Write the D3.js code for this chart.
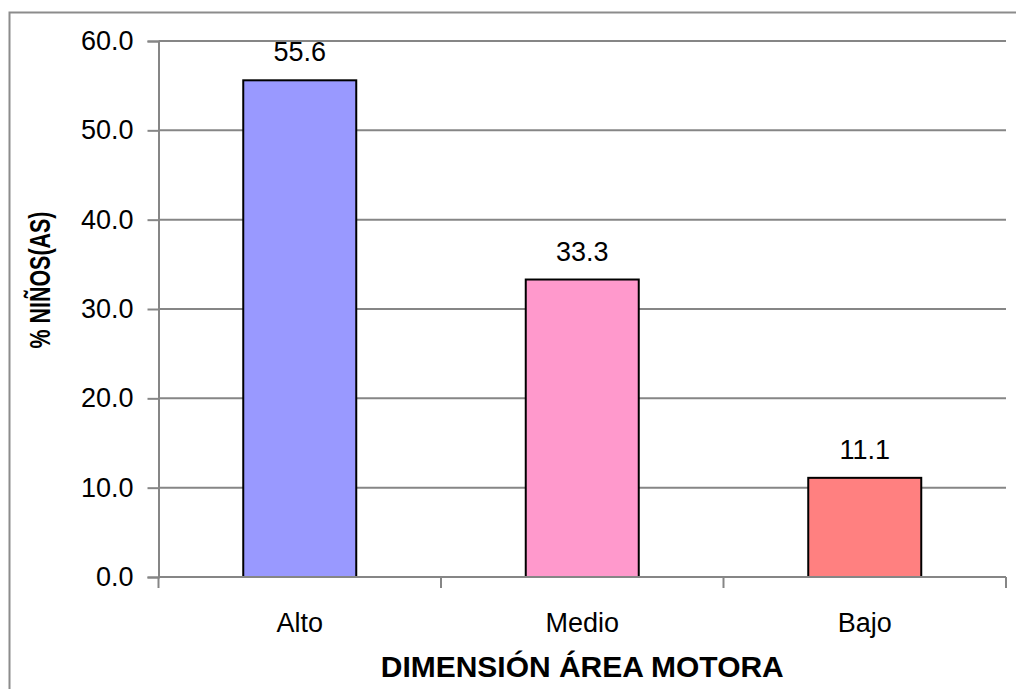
<!DOCTYPE html>
<html>
<head>
<meta charset="utf-8">
<script src="https://cdn.jsdelivr.net/npm/d3@7"></script>
<style>
  body { margin: 0; background: #fff; overflow: hidden; }
  svg { display: block; font-family: "Liberation Sans", Arial, sans-serif; }
</style>
</head>
<body>
<svg id="chart" width="1016" height="689"></svg>
<script>
// data
const categories = ["Alto", "Medio", "Bajo"];
const values = [55.6, 33.3, 11.1];
const barColors = ["#9999FF", "#FF99CC", "#FF8080"];
const yTicks = [0, 10, 20, 30, 40, 50, 60];

const svg = d3.select("#chart");

// outer border: only left and top edges are inside the picture
svg.append("path")
    .attr("d", "M9.5,689 L9.5,12.5 L1016,12.5")
    .attr("fill", "none")
    .attr("stroke", "#8c8c8c")
    .attr("stroke-width", 2);

const plotLeft = 158.5, plotRight = 1006, plotTop = 41, plotBottom = 577;

const y = d3.scaleLinear().domain([0, 60]).range([plotBottom, plotTop]);
const x = d3.scaleBand()
    .domain(categories)
    .range([plotLeft, plotRight])
    .paddingInner(0.6)
    .paddingOuter(0.3);

// gridlines
svg.append("g")
    .selectAll("line")
    .data(yTicks.filter(d => d > 0))
    .enter()
    .append("line")
    .attr("x1", plotLeft).attr("x2", plotRight)
    .attr("y1", d => y(d)).attr("y2", d => y(d))
    .attr("stroke", "#868686")
    .attr("stroke-width", 2);

// y axis
const yAxis = svg.append("g")
    .attr("transform", `translate(${plotLeft},0)`)
    .call(d3.axisLeft(y).tickValues(yTicks).tickSize(11).tickPadding(14).tickFormat(d3.format(".1f")));
yAxis.select(".domain").attr("stroke", "#868686").attr("stroke-width", 2);
yAxis.selectAll(".tick line").attr("stroke", "#868686").attr("stroke-width", 2);
yAxis.selectAll(".tick text")
    .attr("fill", "#000")
    .style("font-size", "27px")
    .style("font-family", "Liberation Sans, Arial, sans-serif");

// bars
svg.append("g")
    .selectAll("rect")
    .data(values)
    .enter()
    .append("rect")
    .attr("x", (d, i) => x(categories[i]))
    .attr("y", d => y(d))
    .attr("width", x.bandwidth())
    .attr("height", d => plotBottom - y(d))
    .attr("fill", (d, i) => barColors[i])
    .attr("stroke", "#000")
    .attr("stroke-width", 2);

// value labels
svg.append("g")
    .selectAll("text")
    .data(values)
    .enter()
    .append("text")
    .attr("x", (d, i) => x(categories[i]) + x.bandwidth() / 2)
    .attr("y", d => y(d) - 19)
    .attr("text-anchor", "middle")
    .style("font-size", "27px")
    .text(d => d.toFixed(1));

// x axis line + category ticks at band edges
svg.append("line")
    .attr("x1", plotLeft).attr("x2", plotRight)
    .attr("y1", plotBottom).attr("y2", plotBottom)
    .attr("stroke", "#868686")
    .attr("stroke-width", 2);

const edges = categories.map((c, i) => plotLeft + i * x.step());
edges.push(plotRight);
svg.append("g")
    .selectAll("line")
    .data(edges)
    .enter()
    .append("line")
    .attr("x1", d => d).attr("x2", d => d)
    .attr("y1", plotBottom).attr("y2", plotBottom + 11)
    .attr("stroke", "#868686")
    .attr("stroke-width", 2);

svg.append("g")
    .selectAll("text")
    .data(categories)
    .enter()
    .append("text")
    .attr("x", d => x(d) + x.bandwidth() / 2)
    .attr("y", 632)
    .attr("text-anchor", "middle")
    .style("font-size", "27px")
    .text(d => d);

// axis titles
svg.append("text")
    .attr("x", (plotLeft + plotRight) / 2)
    .attr("y", 677)
    .attr("text-anchor", "middle")
    .style("font-size", "30px")
    .style("font-weight", "bold")
    .attr("textLength", 403)
    .attr("lengthAdjust", "spacingAndGlyphs")
    .text("DIMENSIÓN ÁREA MOTORA");

svg.append("text")
    .attr("transform", "translate(50,280) rotate(-90)")
    .attr("text-anchor", "middle")
    .style("font-size", "30px")
    .style("font-weight", "bold")
    .attr("textLength", 137)
    .attr("lengthAdjust", "spacingAndGlyphs")
    .text("% NIÑOS(AS)");
</script>
</body>
</html>
